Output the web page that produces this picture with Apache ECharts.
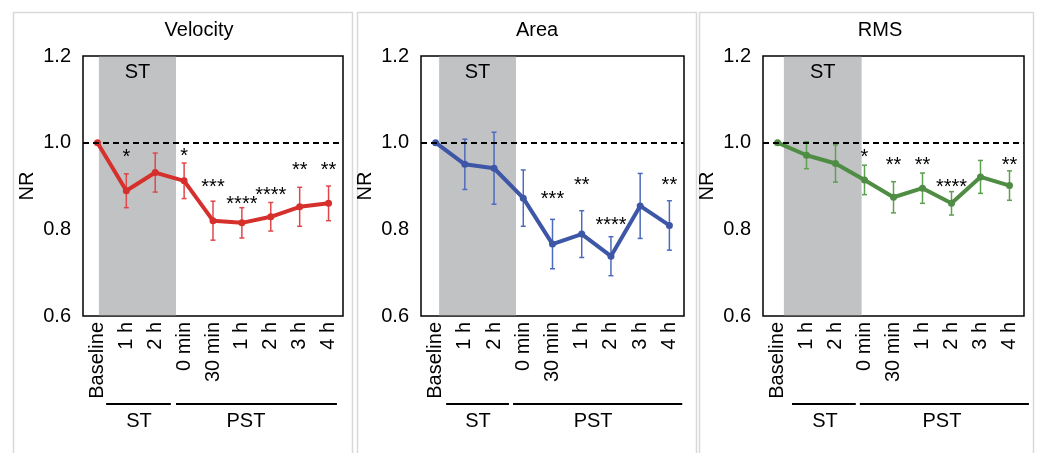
<!DOCTYPE html>
<html><head><meta charset="utf-8">
<script src="https://cdn.jsdelivr.net/npm/echarts@6/dist/echarts.min.js"></script>
<style>html,body{margin:0;padding:0;background:#fff}#c{width:1038px;height:453px}</style>
</head><body><div id="c"></div>
<script>
// ---------- data ----------
const categories = ['Baseline', '1 h', '2 h', '0 min', '30 min', '1 h', '2 h', '3 h', '4 h'];
const yTicks = [0.6, 0.8, 1.0, 1.2];
const panelTitles = ['Velocity', 'Area', 'RMS'];

const velocityMean = [1.0, 0.889, 0.931, 0.912, 0.820, 0.815, 0.829, 0.852, 0.860];
const velocityErr  = [0, 0.039, 0.045, 0.041, 0.045, 0.035, 0.033, 0.045, 0.040];
const velocityStars = ['', '*', '', '*', '***', '****', '****', '**', '**'];
const velocityStarY = [null, 0.978, null, 0.979, 0.908, 0.868, 0.889, 0.947, 0.947];

const areaMean = [1.0, 0.950, 0.941, 0.872, 0.766, 0.789, 0.738, 0.854, 0.809];
const areaErr  = [0, 0.058, 0.083, 0.065, 0.057, 0.054, 0.045, 0.075, 0.057];
const areaStars = ['', '', '', '', '***', '**', '****', '', '**'];
const areaStarY = [null, null, null, null, 0.881, 0.912, 0.820, null, 0.912];

const rmsMean = [1.0, 0.971, 0.952, 0.914, 0.874, 0.895, 0.860, 0.921, 0.901];
const rmsErr  = [0, 0.031, 0.043, 0.034, 0.036, 0.035, 0.027, 0.038, 0.034];
const rmsStars = ['', '', '', '*', '**', '**', '****', '', '**'];
const rmsStarY = [null, null, null, 0.978, 0.958, 0.958, 0.908, null, 0.958];

const referenceLevel = 1.0;
const bandLabel = 'ST';
const bandRange = [[0.55, 3.22], [0.62, 3.25], [0.72, 3.40]];
const groupLabels = ['ST', 'PST'];
const groupLines = [
  [[0.80, 3.04], [3.22, 8.79]],
  [[0.86, 3.01], [3.15, 8.94]],
  [[1.00, 3.20], [3.34, 9.17]]
];
const groupLabelX = [[1.94, 5.64], [1.95, 5.89], [2.14, 6.17]];

// ---------- styling ----------
const FONT = 'Liberation Sans, Arial, sans-serif';
const panels = [
  { mean: velocityMean, err: velocityErr, stars: velocityStars, starY: velocityStarY,
    line: '#d6302c', bar: '#e0474a', grid: { left: 83, top: 56, width: 260, height: 260 },
    titleX: 199, frame: [13.5, 12.5, 339, 460] },
  { mean: areaMean, err: areaErr, stars: areaStars, starY: areaStarY,
    line: '#3d56a6', bar: '#4d6bbd', grid: { left: 421, top: 56, width: 263, height: 260 },
    titleX: 537, frame: [357.5, 12.5, 339, 460] },
  { mean: rmsMean, err: rmsErr, stars: rmsStars, starY: rmsStarY,
    line: '#4f8d44', bar: '#5e9f52', grid: { left: 763, top: 56, width: 261, height: 260 },
    titleX: 880, frame: [699.5, 12.5, 334, 460] }
];

const grid = [], xAxis = [], yAxis = [], series = [], graphic = [];
const yMin = yTicks[0], yMax = yTicks[yTicks.length - 1];

panels.forEach((p, i) => {
  grid.push(Object.assign({ show: true, borderColor: '#000', borderWidth: 1.5,
    backgroundColor: 'transparent', containLabel: false }, p.grid));
  // category axis
  xAxis.push({ type: 'category', gridIndex: i, data: categories, boundaryGap: true,
    axisLine: { show: false }, axisTick: { show: false },
    axisLabel: { rotate: 90, interval: 0, fontSize: 20, color: '#000', fontFamily: FONT, margin: 6 } });
  // hidden continuous axis for band / group brackets
  xAxis.push({ type: 'value', gridIndex: i, min: 0, max: categories.length, show: false });
  yAxis.push({ type: 'value', gridIndex: i, min: yMin, max: yMax, interval: 0.2,
    axisLine: { show: false }, axisTick: { show: false }, splitLine: { show: false },
    axisLabel: { fontSize: 20, color: '#000', fontFamily: FONT, margin: 12,
      formatter: v => v.toFixed(1) },
    name: 'NR', nameLocation: 'middle', nameRotate: 90, nameGap: 46,
    nameTextStyle: { fontSize: 20, color: '#000', fontFamily: FONT } });

  const catX = 2 * i, valX = 2 * i + 1;

  // gray ST band
  series.push({ type: 'custom', xAxisIndex: valX, yAxisIndex: i, z: 1, silent: true,
    data: [bandRange[i]],
    renderItem: (params, api) => {
      const a = api.coord([api.value(0), yMax]);
      const b = api.coord([api.value(1), yMin]);
      return { type: 'group', children: [
        { type: 'rect', shape: { x: a[0], y: a[1] + 0.8, width: b[0] - a[0], height: b[1] - a[1] - 1.6 },
          style: { fill: '#c1c2c4' } },
        { type: 'text', x: (a[0] + b[0]) / 2, y: a[1] + 16,
          style: { text: bandLabel, fontSize: 20, fontFamily: FONT, fill: '#000',
            textAlign: 'center', textVerticalAlign: 'middle' } }
      ] };
    } });

  // error bars
  series.push({ type: 'custom', xAxisIndex: catX, yAxisIndex: i, z: 3, silent: true,
    data: p.mean.map((m, k) => [k, m - p.err[k], m + p.err[k]]).filter((d, k) => p.err[k] > 0),
    renderItem: (params, api) => {
      const lo = api.coord([api.value(0), api.value(1)]);
      const hi = api.coord([api.value(0), api.value(2)]);
      const w = 2.5, st = { stroke: p.bar, lineWidth: 1.5 };
      return { type: 'group', children: [
        { type: 'line', shape: { x1: lo[0], y1: lo[1], x2: hi[0], y2: hi[1] }, style: st },
        { type: 'line', shape: { x1: lo[0] - w, y1: lo[1], x2: lo[0] + w, y2: lo[1] }, style: st },
        { type: 'line', shape: { x1: hi[0] - w, y1: hi[1], x2: hi[0] + w, y2: hi[1] }, style: st }
      ] };
    } });

  // main line + reference dashed line
  series.push({ type: 'line', xAxisIndex: catX, yAxisIndex: i, z: 4, data: p.mean,
    symbol: 'circle', symbolSize: 7, showSymbol: true,
    lineStyle: { color: p.line, width: 4 }, itemStyle: { color: p.line },
    animation: false,
    markLine: { silent: true, symbol: ['none', 'none'], label: { show: false },
      lineStyle: { color: '#000', type: [6, 4], width: 1.8 },
      data: [{ yAxis: referenceLevel }] } });

  // significance stars
  series.push({ type: 'custom', xAxisIndex: catX, yAxisIndex: i, z: 5, silent: true,
    data: p.starY.map((y, k) => [k, y, k]).filter(d => d[1] != null),
    renderItem: (params, api) => {
      const c = api.coord([api.value(0), api.value(1)]);
      return { type: 'text', x: c[0], y: c[1] + 5,
        style: { text: p.stars[api.value(2)], fontSize: 20, fontFamily: FONT, fill: '#000',
          textAlign: 'center', textVerticalAlign: 'middle' } };
    } });

  // group brackets below axis
  series.push({ type: 'custom', xAxisIndex: valX, yAxisIndex: i, z: 5, silent: true, clip: false,
    data: groupLines[i].map((r, k) => [r[0], r[1], groupLabelX[i][k], k]),
    renderItem: (params, api) => {
      const a = api.coord([api.value(0), yMin]);
      const b = api.coord([api.value(1), yMin]);
      const t = api.coord([api.value(2), yMin]);
      return { type: 'group', children: [
        { type: 'line', shape: { x1: a[0], y1: a[1] + 88, x2: b[0], y2: b[1] + 88 },
          style: { stroke: '#000', lineWidth: 1.8 } },
        { type: 'text', x: t[0], y: t[1] + 105,
          style: { text: groupLabels[api.value(3)], fontSize: 20, fontFamily: FONT, fill: '#000',
            textAlign: 'center', textVerticalAlign: 'middle' } }
      ] };
    } });

  graphic.push({ type: 'rect', silent: true, z: -10,
    shape: { x: p.frame[0], y: p.frame[1], width: p.frame[2], height: p.frame[3] },
    style: { fill: 'none', stroke: '#d9d9d9', lineWidth: 1.5 } });
  graphic.push({ type: 'text', x: p.titleX, y: 30, silent: true,
    style: { text: panelTitles[i], fontSize: 20, fontFamily: FONT, fill: '#000',
      textAlign: 'center', textVerticalAlign: 'middle' } });
});

const chart = echarts.init(document.getElementById('c'), null, { renderer: 'canvas' });
chart.setOption({ animation: false, backgroundColor: '#fff',
  textStyle: { fontFamily: FONT }, grid, xAxis, yAxis, series, graphic });
</script></body></html>
